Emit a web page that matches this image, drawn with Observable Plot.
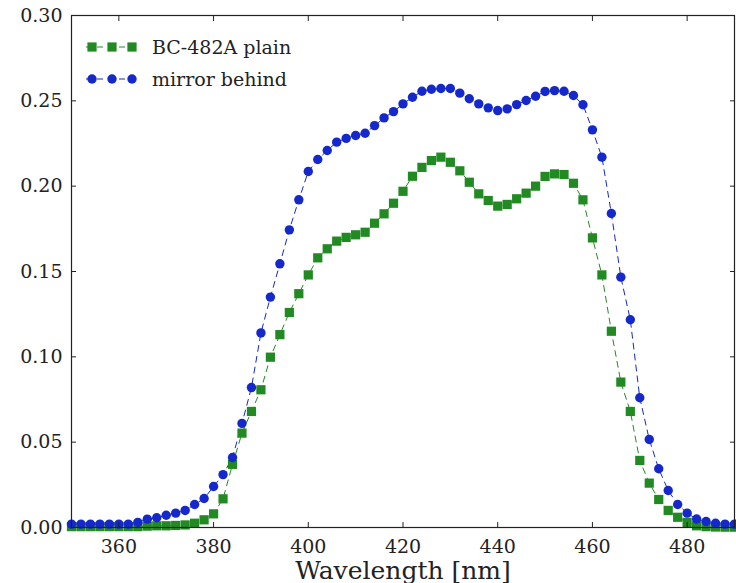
<!DOCTYPE html>
<html>
<head>
<meta charset="utf-8">
<script src="https://cdn.jsdelivr.net/npm/d3@7"></script>
<script src="https://cdn.jsdelivr.net/npm/@observablehq/plot@0.6"></script>
<style>
  html, body { margin: 0; padding: 0; background: #fff; }
  #wrap { position: relative; width: 736px; height: 583px; font-family: "DejaVu Serif", "Liberation Serif", serif; }
  #chart svg, #chart svg text { font-family: "DejaVu Serif", "Liberation Serif", serif !important; }
  #legend { position: absolute; left: 84px; top: 31px; font-size: 19px; color: #222; }
  #legend .row { display: flex; align-items: center; height: 32px; }
  #legend svg { margin-right: 12px; }
</style>
</head>
<body>
<div id="wrap"><div id="chart"></div><div id="legend"></div></div>
<script>
// Wavelengths (nm)
const wavelength = [350,352,354,356,358,360,362,364,366,368,370,372,374,376,378,380,382,384,386,388,390,392,394,396,398,400,402,404,406,408,410,412,414,416,418,420,422,424,426,428,430,432,434,436,438,440,442,444,446,448,450,452,454,456,458,460,462,464,466,468,470,472,474,476,478,480,482,484,486,488,490];
// BC-482A plain
const plain = [0.0005,0.0005,0.0005,0.0005,0.0005,0.0005,0.0005,0.0005,0.0008,0.001,0.001,0.0012,0.0015,0.0025,0.0045,0.008,0.0168,0.037,0.0553,0.068,0.0807,0.0998,0.113,0.126,0.137,0.148,0.158,0.1633,0.1678,0.170,0.1715,0.173,0.1783,0.1838,0.190,0.197,0.2058,0.211,0.215,0.217,0.214,0.209,0.2023,0.1955,0.1916,0.1883,0.1893,0.1926,0.1959,0.200,0.2057,0.2072,0.2068,0.2017,0.192,0.1697,0.148,0.115,0.0852,0.068,0.0393,0.026,0.0164,0.010,0.006,0.003,0.001,0.0005,0.0003,0.0002,0.0002];
// mirror behind
const mirror = [0.002,0.002,0.002,0.002,0.002,0.002,0.002,0.003,0.0049,0.0057,0.0072,0.0084,0.010,0.0135,0.017,0.024,0.031,0.041,0.061,0.082,0.114,0.135,0.1545,0.1744,0.192,0.2086,0.2156,0.2209,0.2258,0.228,0.2297,0.231,0.2355,0.240,0.2437,0.2482,0.2521,0.2556,0.2568,0.2572,0.2572,0.2545,0.2512,0.2482,0.2459,0.2443,0.2453,0.2478,0.2502,0.2527,0.2555,0.256,0.2556,0.2531,0.2477,0.233,0.217,0.184,0.1467,0.1217,0.076,0.0516,0.0344,0.0217,0.0135,0.0084,0.005,0.0035,0.0025,0.002,0.002];

const seriesNames = ["BC-482A plain", "mirror behind"];
const seriesColors = ["#228a22", "#1428cc"];
const xTicks = [360,380,400,420,440,460,480];
const yTicks = [0,0.05,0.10,0.15,0.20,0.25,0.30];
const xLabel = "Wavelength [nm]";

const plainData = wavelength.map((w, i) => ({w, v: plain[i]}));
const mirrorData = wavelength.map((w, i) => ({w, v: mirror[i]}));

const chart = Plot.plot({
  width: 736,
  height: 583,
  marginLeft: 71,
  marginRight: 2,
  marginTop: 15,
  marginBottom: 56,
  style: {fontFamily: "'DejaVu Serif', 'Liberation Serif', serif", fontSize: "19px", background: "#fff", color: "#222"},
  x: {domain: [350, 490], label: null},
  y: {domain: [0, 0.30], label: null},
  marks: [
    Plot.line(plainData, {x: "w", y: "v", stroke: seriesColors[0], strokeWidth: 1, strokeDasharray: "6,5"}),
    Plot.line(mirrorData, {x: "w", y: "v", stroke: seriesColors[1], strokeWidth: 1, strokeDasharray: "6,5"}),
    Plot.dot(plainData, {x: "w", y: "v", symbol: "square", r: 5.2, fill: seriesColors[0], stroke: "none"}),
    Plot.dot(mirrorData, {x: "w", y: "v", symbol: "circle", r: 4.7, fill: seriesColors[1], stroke: "none"}),
    Plot.frame({stroke: "#222", strokeWidth: 1.2}),
    Plot.axisX({anchor: "bottom", ticks: xTicks, tickSize: -5, tickPadding: 17, tickFormat: d => String(d), label: null}),
    Plot.axisX({anchor: "top", ticks: xTicks, tickSize: -5, tickFormat: () => "", label: null}),
    Plot.axisY({anchor: "left", ticks: yTicks, tickSize: -5, tickPadding: 14, tickFormat: d => d.toFixed(2), label: null}),
    Plot.axisY({anchor: "right", ticks: yTicks, tickSize: -5, tickFormat: () => "", label: null}),
    Plot.text([xLabel], {text: d => d, frameAnchor: "bottom", dy: 43, fontSize: 25, lineAnchor: "middle", fill: "#222"})
  ]
});
document.getElementById("chart").appendChild(chart);

// Legend inside the axes (top-left)
const legend = document.getElementById("legend");
seriesNames.forEach((name, i) => {
  const row = document.createElement("div");
  row.className = "row";
  const s = d3.create("svg").attr("width", 56).attr("height", 20);
  s.append("line").attr("x1", 2).attr("x2", 54).attr("y1", 10).attr("y2", 10)
    .attr("stroke", seriesColors[i]).attr("stroke-dasharray", "6,5");
  [8, 28, 48].forEach(cx => {
    if (i === 0) s.append("rect").attr("x", cx - 4.6).attr("y", 5.4).attr("width", 9.2).attr("height", 9.2).attr("fill", seriesColors[i]);
    else s.append("circle").attr("cx", cx).attr("cy", 10).attr("r", 4.7).attr("fill", seriesColors[i]);
  });
  row.appendChild(s.node());
  const t = document.createElement("span");
  t.textContent = name;
  row.appendChild(t);
  legend.appendChild(row);
});
</script>
</body>
</html>
